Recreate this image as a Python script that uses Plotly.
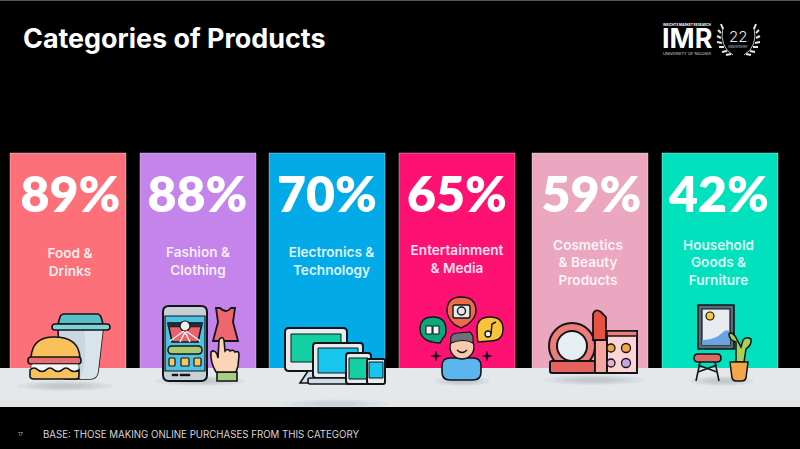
import plotly.graph_objects as go

# Data
categories = ["Food &<br>Drinks", "Fashion &<br>Clothing", "Electronics &<br>Technology",
              "Entertainment<br>& Media", "Cosmetics<br>& Beauty<br>Products", "Household<br>Goods &<br>Furniture"]
percentages = [89, 88, 70, 65, 59, 42]
card_colors = ["#fe7079", "#c583ec", "#02abe8", "#fd1273", "#eba7bf", "#01e1bd"]

# Layout of the slide, in pixels
card_left = [10, 140, 269, 399, 532, 662]
card_width = 116
card_top = 153
card_height = 216
value_x = [70.5, 197.5, 327, 457, 591.5, 719]
label_x = [70, 198, 331.5, 457, 588, 718.5]
label_y = [263.5, 262.5, 262.5, 260.5, 264, 264]

OUT = "#111418"
shapes = []


def rect(x0, y0, x1, y1, fill, line=OUT, w=1.6, radius=0):
    if radius:
        r = radius
        path = (f"M{x0+r},{y0} L{x1-r},{y0} Q{x1},{y0} {x1},{y0+r} L{x1},{y1-r} Q{x1},{y1} {x1-r},{y1} "
                f"L{x0+r},{y1} Q{x0},{y1} {x0},{y1-r} L{x0},{y0+r} Q{x0},{y0} {x0+r},{y0} Z")
        shapes.append(dict(type="path", path=path, fillcolor=fill, line=dict(color=line, width=w)))
    else:
        shapes.append(dict(type="rect", x0=x0, y0=y0, x1=x1, y1=y1, fillcolor=fill,
                           line=dict(color=line, width=w)))


def circle(cx, cy, rx, fill, line=OUT, w=1.6, ry=None, opacity=1):
    ry = rx if ry is None else ry
    shapes.append(dict(type="circle", x0=cx-rx, y0=cy-ry, x1=cx+rx, y1=cy+ry, fillcolor=fill,
                       opacity=opacity, line=dict(color=line, width=w)))


def path(d, fill="rgba(0,0,0,0)", line=OUT, w=1.6):
    shapes.append(dict(type="path", path=d, fillcolor=fill, line=dict(color=line, width=w)))


def shadow(cx, cy, rx, strength=0.1):
    for k in [1.0, 0.8, 0.6, 0.4]:
        circle(cx, cy, rx*k, "#8c9499", line="rgba(0,0,0,0)", w=0, ry=5*k, opacity=strength)


# floor band
shapes.append(dict(type="rect", x0=0, y0=368, x1=800, y1=407, fillcolor="#e4e8eb", line=dict(width=0)))
shapes.append(dict(type="line", x0=0, y0=0.5, x1=800, y1=0.5, line=dict(color="#555555", width=1)))
shadow(65, 386, 48)
shadow(200, 381, 45)
shadow(335, 404, 55, strength=0.06)
shadow(462, 381, 28)
shadow(594, 380, 50)
shadow(722, 381, 32)

# burger and cup
path("M58,329 L103,329 L98,372 Q97,379 90,379 L66,379 Q62,379 60,372 Z", "#c9d7e1")
path("M84,329 L103,329 L98,372 Q97,379 90,379 L80,379 Q88,360 84,329 Z", "#d9e4ea", line="rgba(0,0,0,0)", w=0)
path("M58,324 L60,317 Q61,314 64,314 L97,314 Q100,314 101,317 L103,324 Z", "#58bfc4")
rect(52, 324, 110, 330, "#7fd2d6", radius=3)
path("M31,358 Q32,337 54,337 Q79,337 80,358 Z", "#f8c15b")
rect(28, 357, 81, 364, "#e86f6f", radius=3)
rect(31, 364, 79, 372, "#f5f5f5", w=0.6, radius=2)
path("M30,370 Q34,366 38,370 Q42,373 46,370 Q50,366 54,370 Q58,373 62,370 Q66,366 70,370 Q74,373 79,370 "
     "L79,376 Q79,379 76,379 L34,379 Q30,379 30,376 Z", "#f8c15b")

# phone, dress and hand
rect(163, 306, 207, 381, "#c7d0d6", w=2, radius=6)
rect(165, 316, 205, 371, "#4ec2e4", w=1.2)
path("M168,323 L202,323 L198,342 L172,342 Z", "#e8636b")
path("M168,323 L202,323 L202,327 L168,327 Z", "#2a2d33", w=0.5)
circle(185, 326, 5, "#f2f2f2", w=1.2)
path("M170,341 L184,331 M200,341 L186,331 M180,342 L185,332 M190,342 L185,332", line="#f2f2f2", w=1.5)
rect(168, 346, 202, 354, "#a9c974", w=1.4, radius=4)
rect(169, 358, 175, 366, "#f9c75f", w=1.2, radius=1)
rect(181, 358, 189, 366, "#f9c75f", w=1.2, radius=1)
rect(194, 358, 201, 366, "#f9c75f", w=1.2, radius=1)
rect(172, 374, 178, 376, OUT, w=0.4)
rect(180, 374, 190, 376, OUT, w=0.4)
path("M216,308 L220,308 Q226,314 231,308 L235,308 L233,322 L238,341 L213,341 L218,322 Z", "#f0666f", w=1.8)
path("M217,372 L217,381 L237,381 L237,372 Z", "#a8cf80")
path("M216,372 Q210,362 211,352 Q214,349 217,354 L218,358 L219,340 Q222,335 224,340 L225,351 "
     "Q228,348 230,351 Q233,349 235,352 Q239,350 239,355 L238,366 L236,372 Z", "#fbd3b5")

# electronics
rect(285, 328, 347, 371, "#e6ebee", w=2, radius=4)
path("M291,334 L341,334 L341,362 L291,362 Z", "#12d0a3", w=1)
path("M308,371 L324,371 L327,383 L300,383 Z", "#cfdce6", w=1.6)
rect(313, 343, 363, 378, "#e6ebee", w=2, radius=3)
rect(318, 348, 358, 373, "#18c5ef", w=1)
rect(308, 378, 368, 384, "#cfdce6", w=1.6, radius=2)
rect(346, 353, 371, 384, "#e6ebee", w=2, radius=3)
rect(349, 358, 368, 379, "#12d0a3", w=1)
rect(367, 359, 385, 384, "#e6ebee", w=2, radius=2)
rect(369, 362, 383, 378, "#18c5ef", w=1)

# person with media bubbles
path("M455,325 L461,328 L467,325 Q476,318 476,311 Q476,297 461,297 Q447,297 447,311 Q447,318 455,325 Z", "#ee6a4b", w=1.4)
rect(453, 305, 470, 318, "#e4e8eb", w=1.4, radius=2)
circle(461.5, 311, 4, "#e4e8eb", w=1.4)
path("M440,343 Q420,342 420,329 Q420,317 433,317 Q446,317 446,330 Q446,336 443,338 Z", "#0ea77b", w=1.4)
rect(426, 326, 432, 334, "#f4f4f4", w=1)
rect(433, 326, 439, 334, "#f4f4f4", w=1)
path("M478,342 Q477,336 477,329 Q477,317 490,317 Q503,317 503,329 Q503,341 490,341 Z", "#f7c33d", w=1.4)
circle(488, 334, 3, "#f4f4f4", w=1.3)
path("M491,334 L492,324 L496,322", w=1.4)
rect(442, 358, 481, 380, "#5ab6ec", w=1.6, radius=8)
circle(462, 347, 12, "#fbc9ad", w=1.4, ry=12)
path("M451,343 Q449,333 458,333 L470,332 Q474,335 473,343 Q464,338 451,343 Z", "#6d7278", w=1.2)
path("M457,350 Q462,355 467,350", w=1.2)
path("M436,351 L437,355 L441,356 L437,357 L436,361 L435,357 L431,356 L435,355 Z", OUT, w=0.5)
path("M487,351 L488,355 L492,356 L488,357 L487,361 L486,357 L482,356 L486,355 Z", OUT, w=0.5)

# cosmetics
circle(572, 346, 23, "#ee7d78", w=2)
circle(572, 346, 15, "#e8edf1", w=2)
rect(550, 361, 595, 373, "#e6625e", w=2, radius=2)
rect(595, 340, 607, 373, "#f8a79f", w=1.8)
path("M593,340 L593,314 Q595,308 601,312 L606,317 L606,340 Z", "#e8503f", w=1.8)
rect(607, 331, 637, 373, "#fbd5d5", w=2)
rect(607, 331, 637, 336, "#ee7d78", w=1.4)
circle(611, 348, 4, "#f4a640", w=1.3)
circle(626, 348, 4.5, "#f4a640", w=1.3)
circle(611, 363, 4, "#eda9d1", w=1.3)
circle(626, 363, 4.5, "#c7a3e2", w=1.3)

# frame, stool and plant
rect(698, 305, 734, 349, "#5c6a78", w=1.6)
rect(702, 309, 730, 345, "#e8ecf0", w=1.2)
path("M702,340 Q715,340 722,333 Q727,328 730,332 L730,345 L702,345 Z", "#6ba3e0", line="rgba(0,0,0,0)", w=0)
circle(710, 316, 4, "#f8c93e", w=1.2)
path("M700,362 L696,381 M715,362 L719,381 M698,372 L717,365 M717,372 L698,365", w=1.6)
rect(694, 354, 721, 362, "#de6b63", radius=4)
path("M736,362 L736,342 Q729,340 729,334 Q731,331 735,336 L741,347 L743,340 Q746,336 751,339 "
     "Q752,345 746,349 L744,362 Z", "#a9cf55", w=1.5)
path("M730,362 L748,362 L746,378 Q745,381 742,381 L736,381 Q733,381 732,378 Z", "#f4a74a", w=1.5)

# logo wreath, two mirrored rows of short leaves
for lx, ly, tx, ty in [(731, 54, 726, 55), (727, 51, 722, 52), (724, 47, 719, 47), (722, 43, 717, 42),
                       (721, 38, 717, 36), (721, 33, 718, 30), (723, 29, 721, 24)]:
    path(f"M{lx},{ly} L{tx},{ty}", line="#e8e8e8", w=2)
    path(f"M{2*738-lx+1},{ly} L{2*738-tx+1},{ty}", line="#e8e8e8", w=2)
path("M733,55 Q719,47 723,27", line="#e8e8e8", w=0.8)
path("M744,55 Q758,47 754,27", line="#e8e8e8", w=0.8)

fig = go.Figure()
fig.add_trace(go.Bar(
    x=[left + card_width / 2 for left in card_left],
    y=[card_height] * len(categories),
    base=card_top,
    width=card_width,
    marker=dict(color=card_colors, line=dict(color="rgba(255,255,255,0.35)", width=1)),
    hoverinfo="skip",
))
fig.add_trace(go.Scatter(
    x=value_x,
    y=[199] * len(percentages),
    mode="text",
    text=[f"{p}%" for p in percentages],
    textposition="middle center",
    textfont=dict(family="Lato", size=50, color="#ffffff", weight=800),
    hoverinfo="skip",
))
fig.add_trace(go.Scatter(
    x=label_x,
    y=label_y,
    mode="text",
    text=categories,
    textposition="middle center",
    textfont=dict(family="Inter", size=13.6, color="rgba(255,255,255,0.88)", weight=600),
    hoverinfo="skip",
))

annotations = [
    dict(x=21, y=38, text="<b>Categories of Products</b>", xanchor="left", font=dict(family="Inter", size=26.9, color="#ffffff")),
    dict(x=41, y=434, text="BASE: THOSE MAKING ONLINE PURCHASES FROM THIS CATEGORY", xanchor="left",
         font=dict(family="Inter", size=9.7, color="#d5d5d5")),
    dict(x=16, y=434, text="17", xanchor="left", font=dict(family="Inter", size=5, color="#bbbbbb")),
    dict(x=687, y=24.5, text="<b>INSIGHTS MARKET RESEARCH</b>", font=dict(family="Inter", size=3.2, color="#ffffff")),
    dict(x=687, y=38, text="<b>IMR</b>", font=dict(family="Inter", size=27, color="#ffffff", weight=900)),
    dict(x=687, y=53.5, text="UNIVERSITY OF NICOSIA", font=dict(family="Inter", size=4, color="#dddddd")),
    dict(x=738, y=36, text="22", font=dict(family="Inter", size=15, color="#e8e8e8", weight=300)),
    dict(x=738, y=46.5, text="ANNIVERSARY", font=dict(family="Inter", size=2.8, color="#cccccc")),
]
for a in annotations:
    a.update(xref="x", yref="y", showarrow=False)

fig.update_layout(
    width=800, height=449,
    margin=dict(l=0, r=0, t=0, b=0),
    paper_bgcolor="#000000", plot_bgcolor="#000000",
    showlegend=False,
    shapes=shapes,
    annotations=annotations,
    xaxis=dict(range=[0, 800], visible=False, fixedrange=True),
    yaxis=dict(range=[449, 0], visible=False, fixedrange=True),
)

# browser default body margin would shift the slide by 8px
fig.write_html("out.html", config=dict(displayModeBar=False),
               post_script="document.body.style.margin='0';document.body.style.background='#000';")
